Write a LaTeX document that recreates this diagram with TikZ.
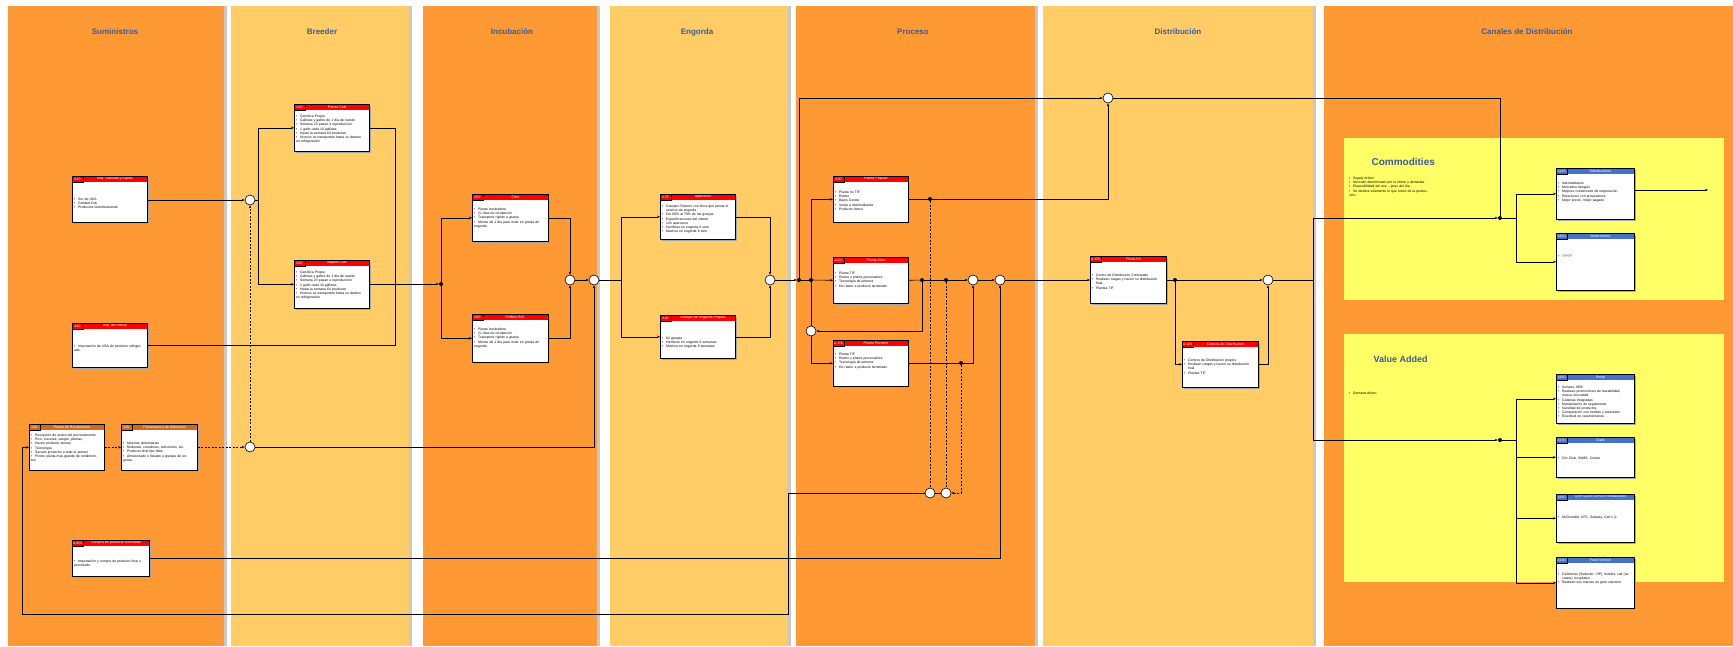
\documentclass[tikz,border=0pt]{standalone}
\usepackage{fontspec}
\setmainfont{Liberation Sans}
\usetikzlibrary{arrows.meta}
\definecolor{dko}{HTML}{FF9933}
\definecolor{lto}{HTML}{FFCC66}
\definecolor{yel}{HTML}{FFFF66}
\definecolor{hred}{HTML}{FF0000}
\definecolor{hbrn}{HTML}{D2691E}
\definecolor{hblu}{HTML}{4472C4}
\definecolor{ttl}{HTML}{3A5B9B}
\definecolor{shd}{HTML}{C8C8C8}
\newcommand\hc{hred}
\newcommand\toff{10}
\newcommand\idw{11}
\newcommand\bul[1]{\par\hangindent=4pt\hangafter=1\noindent\makebox[4pt][l]{\textbullet}#1}
\newcommand\bx[8]{%
  \fill[black!35] ({#2+2},{#3+2}) rectangle ++(#4,#5);
  \node[boxst, minimum width=#4pt, minimum height=#5pt] (#1) at (#2,#3) {};
  \fill[\hc] (#2,#3) rectangle ++(#4,6);
  \draw[line width=0.35pt, fill=\hc] (#2,#3) rectangle ++(\idw,6);
  \node[idst] at ({#2+\idw/2},{#3+3}) {#6};
  \node[titst] at ({#2+(#4+\idw)/2},{#3+3}) {#7};
  \pgfmathsetmacro\tw{#4-6}
  \node[bodyst, text width=\tw pt] at ({#2+2},{#3+\toff}) {#8};
  \draw[line width=0.6pt] (#1.north west) rectangle (#1.south east);
}
\newcommand\col[3]{%
  \fill[shd] ({#1+3},6) rectangle ({#2+3},646);
  \fill[#3] (#1,6) rectangle (#2,646);
}
\tikzset{
  boxst/.style={draw, fill=white, anchor=north west, inner sep=0, line width=0.6pt},
  idst/.style={font=\fontsize{3.4}{4}\selectfont, text=white, inner sep=0},
  titst/.style={font=\fontsize{3.6}{4}\selectfont, text=white, inner sep=0},
  bodyst/.style={font=\fontsize{3.4}{4.2}\selectfont, anchor=north west, inner sep=0, align=left},
  colhd/.style={font=\fontsize{8}{9}\selectfont\bfseries, text=ttl, anchor=base},
  wc/.style={circle, draw, fill=white, minimum size=10pt, inner sep=0, line width=0.6pt},
  bd/.style={circle, fill=black, minimum size=4pt, inner sep=0},
  ln/.style={line width=0.6pt},
  arr/.style={line width=0.6pt, -{Stealth[length=3pt,width=2.4pt]}},
  dsh/.style={line width=0.6pt, dash pattern=on 2pt off 1.5pt},
  dsharr/.style={dsh, -{Stealth[length=3pt,width=2.4pt]}},
}
\begin{document}
\begin{tikzpicture}[x=1pt,y=-1pt]
\useasboundingbox (0,0) rectangle (1733,646);
\fill[white] (0,0) rectangle (1733,646);
% columns
\col{8}{224}{dko}
\col{231}{409}{lto}
\col{423}{597}{dko}
\col{610}{788}{lto}
\col{796}{1035}{dko}
\col{1043}{1313}{lto}
\col{1324}{1733}{dko}
\node[colhd] at (115,34) {Suministros};
\node[colhd] at (322,34) {Breeder};
\node[colhd] at (512,34) {Incubación};
\node[colhd] at (697,34) {Engorda};
\node[colhd] at (913,34) {Proceso};
\node[colhd] at (1178,34) {Distribución};
\node[colhd] at (1527,34) {Canales de Distribución};
% yellow panels
\fill[yel] (1344,138) rectangle (1724,300);
\fill[yel] (1344,334) rectangle (1724,582);
\node[font=\fontsize{10}{11}\selectfont\bfseries, text=ttl, anchor=west] at (1368,162) {Commodities};
\node[font=\fontsize{9}{10}\selectfont\bfseries, text=ttl, anchor=west] at (1370,359) {Value Added};
\node[bodyst, text width=82pt] at (1349,175) {\bul{Supply driven}\bul{Mercado determinado por la oferta y demanda.}\bul{Disponibilidad del ave -- peso del día}\bul{Se destina solamente lo que sobre de la producción.}};
\node[bodyst, text width=82pt] at (1349,390) {\bul{Demand driven}};

% ---- boxes
\renewcommand\toff{20}
\bx{g1}{72}{176}{75}{46}{A10}{Imp. Gallinas y Gallos}{\bul{Sur de USA}\bul{Calidad Cob}\bul{Productos Genéticamente}}
\bx{pienso}{72}{323}{75}{44}{A40}{Imp. de Pienso}{\bul{Importación de USA de producto refrigerado.}}
\renewcommand\toff{8}
\renewcommand\hc{hbrn}
\bx{rend}{29}{424}{75}{46}{010}{Planta de Rendimiento}{\bul{Recepción de restos del procesamiento}\bul{Pico, vísceras, sangre, plumas,}\bul{Hacen producto animal}\bul{Tecnología}\bul{Sacarle provecho a todo el animal}\bul{Pronto planta mas grande de rendimientos}}
\renewcommand\toff{16}
\bx{procal}{121}{424}{76}{46}{030}{Procesadora de Alimentos}{\bul{Mezclas alimentarias}\bul{Molienda, cocedores, extrusores, etc.}\bul{Producto final tipo flake}\bul{Almacenado o llevado a granjas de engorda.}}
\renewcommand\hc{hred}
\renewcommand\toff{18}
\bx{compra}{72}{540}{77}{36}{A.050}{Compra de producto terminado}{\bul{Importación y compra de producto final o procesado.}}
\renewcommand\toff{9}
\bx{parras}{294}{104}{75}{47}{A20}{Parras Cob}{\bul{Genética Propia}\bul{Gallinas y gallos de 1 día de nacido}\bul{Semana 23 pasan a reproducción}\bul{1 gallo cada 10 gallinas}\bul{Hasta la semana 64 producen}\bul{Huevos se transportan hasta su destino en refrigeración}}
\bx{mapimi}{294}{260}{75}{48}{A30}{Mapimí Cob}{\bul{Genética Propia}\bul{Gallinas y gallos de 1 día de nacido}\bul{Semana 23 pasan a reproducción}\bul{1 gallo cada 10 gallinas}\bul{Hasta la semana 64 producen}\bul{Huevos se transportan hasta su destino en refrigeración}}
\renewcommand\toff{12}
\bx{citra}{472}{194}{76}{47}{A50}{Citra}{\bul{Planta Incubadora}\bul{21 días de incubación}\bul{Transporte rápido a granja}\bul{Menos de 1 día para estar en granja de engorda}}
\bx{pollitos}{472}{314}{76}{48}{A60}{Pollitos INC.}{\bul{Planta Incubadora}\bul{21 días de incubación}\bul{Transporte rápido a granja}\bul{Menos de 1 día para estar en granja de engorda}}
\renewcommand\toff{9}
\bx{aparc}{660}{194}{75}{45}{A70}{Aparceros}{\bul{Granjero Externo con finca que presta el servicio de engorda}\bul{Del 60\% al 70\% de las granjas}\bul{Especificaciones del cliente}\bul{124 aparceros}\bul{Hembras en engorda 6 sem}\bul{Machos en engorda 8 sem}}
\renewcommand\toff{20}
\bx{granjas}{660}{315}{75}{43}{A80}{Granjas de Engorda Propias}{\bul{62 granjas}\bul{Hembras en engorda 6 semanas}\bul{Machos en engorda 8 semanas}}
\renewcommand\toff{13}
\bx{popular}{833}{176}{75}{46}{A90}{Planta Popular}{\bul{Planta no TIF}\bul{Rastro}\bul{Bajos Costos}\bul{Venta a intermediarios}\bul{Producto fresco}}
\bx{pcitra}{833}{257}{75}{46}{A100}{Planta Citra}{\bul{Planta TIF}\bul{Rastro y planta procesadora}\bul{Tecnología de primera}\bul{De rastro a producto terminado}}
\renewcommand\toff{11}
\bx{porvenir}{833}{340}{75}{46}{A.110}{Planta Porvenir}{\bul{Planta TIF}\bul{Rastro y planta procesadora}\bul{Tecnología de primera}\bul{De rastro a producto terminado}}
\renewcommand\toff{16}
\bx{finalsa}{1090}{256}{76}{47}{A.130}{FINALSA}{\bul{Centro de Distribución Contratado}\bul{Realizan cargas y hacen su distribución final}\bul{Plantas TIF}}
\bx{centros}{1182}{341}{76}{46}{A.120}{Centros de Distribución}{\bul{Centros de Distribución propios}\bul{Realizan cargas y hacen su distribución final}\bul{Plantas TIF}}
\renewcommand\hc{hblu}
\renewcommand\toff{12}
\bx{dist1}{1556}{168}{78}{51}{A140}{Distribuidores}{\bul{Intermediarios}\bul{Mercados tianguis}\bul{Mejores condiciones de negociación}\bul{Relaciones con proveedores}\bul{Mejor precio, mejor pagado}}
\renewcommand\toff{20}
\bx{dist2}{1556}{233}{78}{57}{A150}{Mostradores}{\bul{?????}}
\renewcommand\toff{10}
\bx{retail}{1556}{374}{78}{49}{A160}{Retail}{\bul{Soriana, HEB}\bul{Realizan promociones de trazabilidad, marca, inocuidad}\bul{Cadenas integradas}\bul{Manipulación de seguimiento}\bul{Variedad de productos}\bul{Comparación con tiendas y mercados}\bul{Exactitud en características}}
\renewcommand\toff{18}
\bx{clubs}{1556}{437}{78}{40}{A170}{Clubs}{\bul{Clic Club, SAMS, Costco}}
\renewcommand\toff{20}
\bx{qsr}{1556}{494}{78}{48}{A180}{QSR Quick Service Restaurants}{\bul{McDonalds, KFC, Subway, Carl's Jr.}}
\renewcommand\toff{14}
\bx{food}{1556}{557}{78}{51}{A190}{Food Service}{\bul{Cafeterías (Sodexho, VIP), hoteles, call (vacation), hospitales}\bul{Realizan sus marcas en gran volumen}}

% ---- circles and dots
\node[wc] (c1) at (250,200) {};
\node[wc] (c2) at (250,447) {};
\node[wc] (c3) at (570,280) {};
\node[wc] (c4) at (594,280) {};
\node[wc] (c5) at (770,280) {};
\node[wc] (c6) at (1108,98) {};
\node[wc] (c7) at (973,280) {};
\node[wc] (c8) at (1000,280) {};
\node[wc] (c9) at (930,493) {};
\node[wc] (c10) at (946,493) {};
\node[wc] (c11) at (1268,280) {};
\node[wc] (c12) at (811,331) {};
\node[bd] (d1) at (441,284) {};
\node[bd] (d2) at (930,199) {};
\node[bd] (d3a) at (922,280) {};
\node[bd] (d3) at (946,280) {};
\node[bd] (d4) at (1175,280) {};
\node[bd] (d5) at (1500,218) {};
\node[bd] (d6) at (1500,440) {};
\node[bd] (d7) at (961,363) {};
\node[bd] (j2) at (799,280) {};
\node[bd] (b3) at (811,280) {};
\coordinate (b1) at (258,200);
\coordinate (j1) at (395,284);

% ---- connectors
\draw[arr] (g1.east |- c1) -- (c1.west);
\draw[arr] (c1.east) -- (b1) |- (parras.west);
\draw[arr] (b1) |- (mapimi.west);
\draw[dsharr] (c2.north) -- (c1.south);
\draw[dsharr] (rend.east) -- (procal.west);
\draw[dsharr] (procal.east |- c2) -- (c2.west);
\draw[ln] (parras.east) -| (j1);
\draw[ln] (mapimi.east) -| (j1);
\draw[ln] (pienso.east) -| (j1);
\draw[arr] (j1) -- (d1);
\draw[arr] (d1) |- (citra.west);
\draw[arr] (d1) |- (pollitos.west);
\draw[arr] (citra.east) -| (c3.north);
\draw[arr] (pollitos.east) -| (c3.south);
\draw[arr] (c3) -- (c4);
\draw[arr] (c2.east) -| (c4.south);
\draw[ln] (c4.east) -- (621,280);
\draw[arr] (621,280) |- (aparc.west);
\draw[arr] (621,280) |- (granjas.west);
\draw[arr] (aparc.east) -| (c5.north);
\draw[arr] (granjas.east) -| (c5.south);
\draw[arr] (c5.east) -- (j2);
\draw[arr] (j2) |- (c6.west);
\draw[ln] (c6.east) -| (d5);
\draw[ln] (j2) -- (b3);
\draw[arr] (b3) -- (pcitra.west);
\draw[arr] (b3) |- (popular.west);
\draw[ln] (b3) -- (c12.north);
\draw[arr] (c12.south) |- (porvenir.west);
\draw[ln] (popular.east |- d2) -- (d2);
\draw[arr] (d2) -| (c6.south);
\draw[ln] (pcitra.east) -- (d3a);
\draw[ln] (d3a) -- (d3);
\draw[arr] (d3) -- (c7.west);
\draw[arr] (d3a) |- (c12.east);
\draw[arr] (c7) -- (c8);
\draw[ln] (porvenir.east |- d7) -- (d7);
\draw[arr] (d7) -| (c7.south);
\draw[dsh] (d2) -- (c9.north);
\draw[dsh] (d3) -- (c10.north);
\draw[dsharr] (d7) |- (c10.east);
\draw[ln] (c9) -- (c10);
\draw[arr] (c8.east) -- (finalsa.west |- c8);
\draw[arr] (compra.east) -| (c8.south);
\draw[arr] (c9.west) -- (788,493) -- (788,614) -- (22,614) |- (rend.west);
\draw[ln] (finalsa.east |- d4) -- (d4);
\draw[arr] (d4) -- (c11.west);
\draw[arr] (d4) |- (centros.west);
\draw[arr] (centros.east) -| (c11.south);
\draw[ln] (c11.east) -- (1313,280);
\draw[arr] (1313,280) |- (d5);
\draw[arr] (1313,280) |- (d6);
\draw[ln] (d5) -- (1516,218);
\draw[arr] (1516,218) |- (dist1.west);
\draw[arr] (1516,218) |- (dist2.west);
\draw[ln] (d6) -- (1516,440);
\draw[arr] (1516,440) |- (retail.west);
\draw[arr] (1516,440) |- (clubs.west);
\draw[arr] (1516,440) |- (qsr.west);
\draw[arr] (1516,440) |- (food.west);
\coordinate (e1) at (1708,190);
\draw[arr] (dist1.east |- e1) -- (e1);
\end{tikzpicture}
\end{document}
